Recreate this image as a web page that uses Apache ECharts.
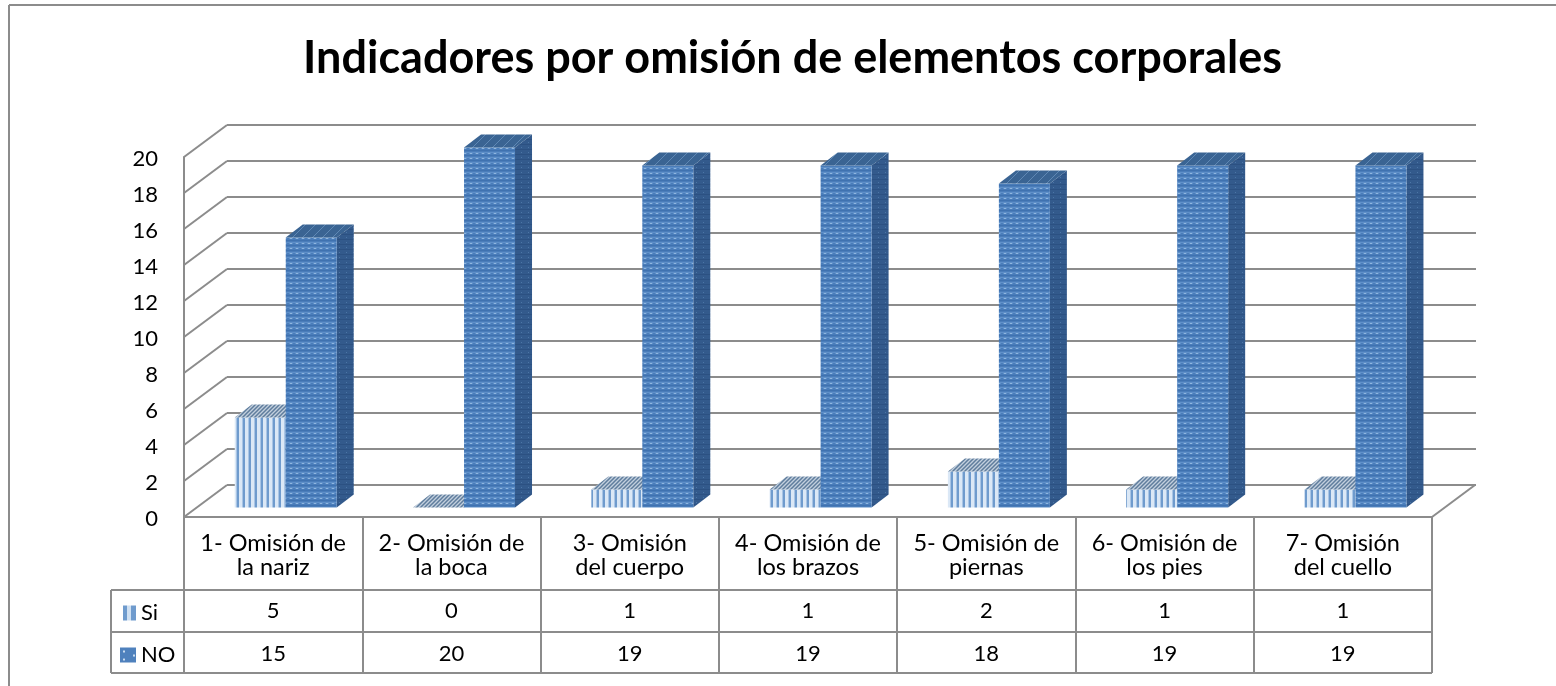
<!DOCTYPE html>
<html><head><meta charset="utf-8">
<style>html,body{margin:0;padding:0;background:#fff}#c{width:1556px;height:686px}</style>
<script src="https://cdn.jsdelivr.net/npm/echarts@6/dist/echarts.min.js"></script>
</head><body><div id="c"></div>
<script>
const titleText = 'Indicadores por omisión de elementos corporales';
const categories = ['1- Omisión de\nla nariz','2- Omisión de\nla boca','3- Omisión\ndel cuerpo','4- Omisión de\nlos brazos','5- Omisión de\npiernas','6- Omisión de\nlos pies','7- Omisión\ndel cuello'];
const siValues = [5,0,1,1,2,1,1];
const noValues = [15,20,19,19,18,19,19];
const yTicks = [0,2,4,6,8,10,12,14,16,18,20];

const FONT = 'Lato, Carlito, sans-serif';
const GREY = '#8c8c8c';
const WALL = [43,-32];   // depth of the box
const PLANE = [12.6,-9.5]; // plane the bars stand on
const DEPTH = [17,-13];  // bar depth

function tile(w,h,draw){const c=document.createElement('canvas');c.width=w;c.height=h;draw(c.getContext('2d'));return {image:c,repeat:'repeat'};}
const patNoFront = tile(6,5,g=>{g.fillStyle='#4a7dba';g.fillRect(0,0,6,5);g.fillStyle='#5f90c9';g.fillRect(0,2,6,1);g.fillRect(1,3,4,1);g.fillStyle='#8fb6df';g.fillRect(2,3,2,1);g.fillStyle='#3f72b0';g.fillRect(0,0,6,1);});
const patNoSide = tile(7,5,g=>{g.fillStyle='#335a8c';g.fillRect(0,0,7,5);g.fillStyle='#4c76a6';g.fillRect(3,2,1,1);g.fillStyle='#2c5182';g.fillRect(0,4,7,1);});
const patNoTop = tile(10,10,g=>{g.fillStyle='#3a6493';g.fillRect(0,0,10,10);g.strokeStyle='#5f88b4';g.lineWidth=1;g.beginPath();g.moveTo(-1,11);g.lineTo(11,-1);g.stroke();});
const patSiFront = tile(6,4,g=>{g.fillStyle='#dbe8f6';g.fillRect(0,0,6,4);g.fillStyle='#6f9bcd';g.fillRect(3,0,2,4);g.fillStyle='#a9c5e5';g.fillRect(2,0,1,4);});
const patSiTop = tile(4,4,g=>{g.fillStyle='#c2cfdd';g.fillRect(0,0,4,4);g.strokeStyle='#5f7d9d';g.lineWidth=1.5;g.beginPath();g.moveTo(-1,5);g.lineTo(5,-1);g.moveTo(-1,1);g.lineTo(1,-1);g.moveTo(3,5);g.lineTo(5,3);g.stroke();});
const patSiLegend = tile(16,15,g=>{g.fillStyle='#ffffff';g.fillRect(0,0,16,15);g.fillStyle='#6f9bcd';g.fillRect(3,0,4,15);g.fillRect(11,0,5,15);g.fillStyle='#cfe0f2';g.fillRect(7,0,4,15);});
const patNoLegend = tile(16,15,g=>{g.fillStyle='#4f81bd';g.fillRect(0,0,16,15);g.fillStyle='#c9dcf0';g.fillRect(3,3,2,2);g.fillRect(3,11,2,2);g.fillRect(13,7,2,2);});

function barItem(side, front, top, sideFill){
  return function(params, api){
    const v = api.value(1);
    const i = api.value(0);
    const base = api.coord([i,0]);
    const head = api.coord([i,v]);
    const w = api.size([1,0])[0]*0.286;
    const cx = base[0]+PLANE[0];
    const x0 = side<0 ? cx-w : cx;
    const x1 = x0+w;
    const yb = base[1]+PLANE[1];
    const yt = head[1]+PLANE[1];
    const kids = [];
    if(side>0){
      kids.push({type:'polygon',shape:{points:[[x1,yb],[x1+DEPTH[0],yb+DEPTH[1]],[x1+DEPTH[0],yt+DEPTH[1]],[x1,yt]]},style:{fill:sideFill}});
    }
    if(v>0){kids.push({type:'rect',shape:{x:x0,y:yt,width:w,height:yb-yt},style:{fill:front}});}
    kids.push({type:'polygon',shape:{points:[[x0,yt],[x1,yt],[x1+DEPTH[0],yt+DEPTH[1]],[x0+DEPTH[0],yt+DEPTH[1]]]},style:{fill:top}});
    return {type:'group',children:kids};
  };
}
function wallItem(params, api){
  const y = api.coord([0,api.value(0)])[1];
  const x0 = params.coordSys.x;
  const kids = [{type:'line',shape:{x1:x0,y1:y,x2:x0+WALL[0],y2:y+WALL[1]},style:{stroke:GREY,lineWidth:2}}];
  if(api.value(0)===0){
    const x1 = x0+params.coordSys.width;
    kids.push({type:'line',shape:{x1:x1,y1:y,x2:x1+WALL[0],y2:y+WALL[1]},style:{stroke:GREY,lineWidth:2}});
  }
  return {type:'group',children:kids};
}
const L=184, R=1432, T=157, B=517;
const rowAxis = (vals,offset)=>({type:'category',gridIndex:0,position:'bottom',offset:offset,data:vals.map(String),
  axisLine:{show:false},axisTick:{show:false},axisLabel:{interval:0,margin:0,color:'#000',fontFamily:FONT,fontSize:22,lineHeight:24}});
const hline=(x1,x2,y)=>({type:'line',shape:{x1,y1:y,x2,y2:y},style:{stroke:GREY,lineWidth:2},silent:true});
const vline=(x,y1,y2)=>({type:'line',shape:{x1:x,y1,x2:x,y2},style:{stroke:GREY,lineWidth:2},silent:true});

const chart = echarts.init(document.getElementById('c'),null,{renderer:'canvas'});
chart.setOption({
  animation:false,
  backgroundColor:'#fff',
  title:{text:titleText,left:787.5,top:31,textAlign:'center',textStyle:{fontFamily:FONT,fontWeight:'bold',fontSize:45,color:'#000'}},
  legend:{orient:'vertical',left:115,top:597,itemWidth:16,itemHeight:15,itemGap:20,icon:'rect',selectedMode:false,
    textStyle:{fontFamily:FONT,fontSize:22,color:'#000'},data:['Si','NO']},
  grid:[
    {left:L,top:T,width:R-L,height:B-T,containLabel:false},
    {left:L+WALL[0],top:T+WALL[1],width:R-L+1,height:B-T,containLabel:false},
    {left:L,top:T+2,width:R-L,height:B-T,containLabel:false}
  ],
  xAxis:[
    {type:'category',gridIndex:0,data:categories,axisLine:{show:true,lineStyle:{color:GREY,width:2}},
     axisTick:{show:true,length:156,lineStyle:{color:GREY,width:2}},
     axisLabel:{interval:0,margin:14,color:'#000',fontFamily:FONT,fontSize:23.5,lineHeight:24}},
    rowAxis(siValues,82),
    rowAxis(noValues,125),
    {type:'category',gridIndex:1,data:categories,show:false},
    {type:'category',gridIndex:2,data:categories,show:false}
  ],
  yAxis:[
    {type:'value',gridIndex:0,min:0,max:20,interval:2,axisLine:{show:true,lineStyle:{color:GREY,width:2}},axisTick:{show:false},splitLine:{show:false},axisLabel:{show:false}},
    {type:'value',gridIndex:1,min:0,max:20,interval:2,axisLine:{show:false},axisTick:{show:false},axisLabel:{show:false},
     splitLine:{show:true,lineStyle:{color:GREY,width:2}}},
    {type:'value',gridIndex:2,min:0,max:20,interval:2,axisLine:{show:false},axisTick:{show:false},splitLine:{show:false},
     axisLabel:{margin:26,color:'#000',fontFamily:FONT,fontSize:22}}
  ],
  graphic:{elements:[
    hline(9,1556,5), vline(9,5,686),
    hline(111,R,590), hline(111,R,632), hline(111,R,673), vline(111,590,673), vline(R,517,673)
  ]},
  series:[
    {name:'muros',type:'custom',xAxisIndex:0,yAxisIndex:0,silent:true,z:1,legendHoverLink:false,renderItem:wallItem,data:yTicks.map(v=>[v]),encode:{y:0}},
    {name:'Si',type:'custom',xAxisIndex:0,yAxisIndex:0,z:3,itemStyle:{color:patSiLegend},renderItem:barItem(-1,patSiFront,patSiTop,null),data:siValues.map((v,i)=>[i,v]),encode:{x:0,y:1}},
    {name:'NO',type:'custom',xAxisIndex:0,yAxisIndex:0,z:4,itemStyle:{color:patNoLegend},renderItem:barItem(1,patNoFront,patNoTop,patNoSide),data:noValues.map((v,i)=>[i,v]),encode:{x:0,y:1}}
  ]
});
</script></body></html>
